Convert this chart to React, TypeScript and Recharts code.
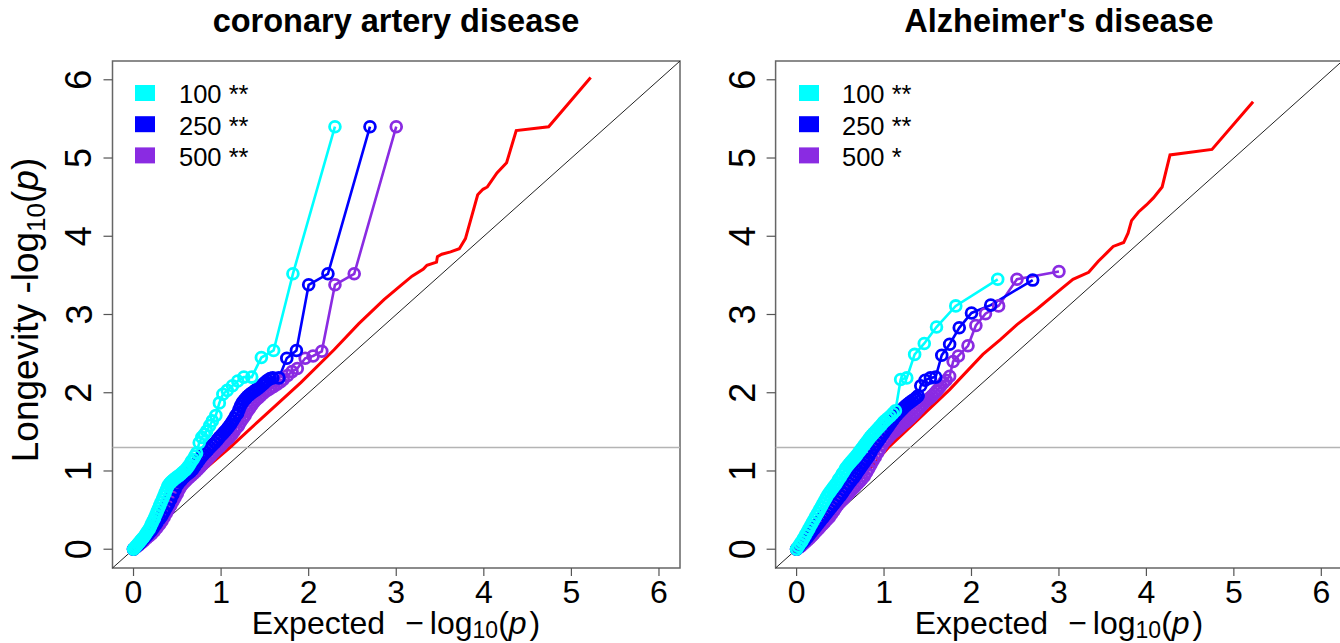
import { ComposedChart, Line, XAxis, YAxis, ReferenceLine, ReferenceArea } from "recharts";

type Pt = { x: number; y: number };

const FONT = "'Liberation Sans', Arial, sans-serif";

const axisTicks = [0, 1, 2, 3, 4, 5, 6];
const legendSizes = ["100", "250", "500"];
const cadStars = ["**", "**", "**"];
const adStars = ["**", "**", "*"];
const seriesColors = ["#00FFFF", "#0000FF", "#8A2BE2"];

const pts = (a: number[][]): Pt[] => a.map(([x, y]) => ({ x, y }));

// coronary artery disease
const cadRed = pts([
  [0, 0], [0.2, 0.22], [0.4, 0.52], [0.6, 0.81], [0.85, 1.06], [1.1, 1.3], [1.45, 1.66],
  [1.91, 2.13], [2.29, 2.55], [2.57, 2.88], [2.86, 3.19], [3.05, 3.37], [3.18, 3.49],
  [3.31, 3.58], [3.35, 3.63], [3.46, 3.67], [3.47, 3.74], [3.52, 3.77], [3.62, 3.8],
  [3.72, 3.84], [3.79, 3.97], [3.85, 4.21], [3.93, 4.53], [3.99, 4.6], [4.04, 4.63],
  [4.15, 4.81], [4.26, 4.94], [4.37, 5.35], [4.74, 5.4], [5.22, 6.03],
]);
const cadCyan = pts([
  [0, 0], [0.015, 0.02], [0.03, 0.04], [0.045, 0.06], [0.06, 0.08], [0.075, 0.1], [0.09, 0.12],
  [0.105, 0.14], [0.12, 0.16], [0.135, 0.185], [0.15, 0.21], [0.165, 0.235], [0.18, 0.26],
  [0.195, 0.295], [0.21, 0.33], [0.225, 0.365], [0.24, 0.4], [0.255, 0.44], [0.27, 0.48],
  [0.285, 0.52], [0.3, 0.56], [0.315, 0.6], [0.33, 0.64], [0.345, 0.68], [0.36, 0.72],
  [0.375, 0.76], [0.39, 0.8], [0.405, 0.83], [0.42, 0.85], [0.435, 0.865], [0.45, 0.88],
  [0.465, 0.895], [0.48, 0.91], [0.5, 0.925], [0.52, 0.94], [0.54, 0.96], [0.56, 0.98],
  [0.58, 1.0], [0.6, 1.02], [0.62, 1.05], [0.64, 1.08], [0.66, 1.12], [0.68, 1.15],
  [0.7, 1.19], [0.72, 1.23], [0.75, 1.36], [0.78, 1.43], [0.81, 1.47], [0.835, 1.51],
  [0.87, 1.58], [0.9, 1.64], [0.94, 1.71], [0.98, 1.87], [1.02, 1.98], [1.07, 2.03],
  [1.13, 2.09], [1.19, 2.15], [1.26, 2.2], [1.35, 2.2], [1.46, 2.45], [1.6, 2.54],
  [1.82, 3.52], [2.3, 5.4],
]);
const cadBlue = pts([
  [0, 0], [0.025, 0.025], [0.05, 0.05], [0.075, 0.08], [0.1, 0.11], [0.125, 0.14], [0.15, 0.17],
  [0.175, 0.2], [0.2, 0.23], [0.225, 0.27], [0.25, 0.31], [0.275, 0.35], [0.3, 0.39],
  [0.325, 0.43], [0.35, 0.48], [0.375, 0.53], [0.4, 0.58], [0.425, 0.64], [0.45, 0.7],
  [0.475, 0.76], [0.5, 0.82], [0.525, 0.86], [0.55, 0.89], [0.575, 0.92], [0.6, 0.945],
  [0.625, 0.97], [0.65, 0.99], [0.675, 1.02], [0.7, 1.06], [0.725, 1.1], [0.75, 1.14],
  [0.775, 1.18], [0.8, 1.21], [0.825, 1.24], [0.85, 1.27], [0.875, 1.3], [0.9, 1.33],
  [0.93, 1.36], [0.955, 1.395], [0.98, 1.43], [1.005, 1.46], [1.03, 1.49], [1.05, 1.515],
  [1.07, 1.54], [1.09, 1.57], [1.11, 1.6], [1.13, 1.635], [1.15, 1.67], [1.17, 1.71],
  [1.19, 1.74], [1.205, 1.785], [1.22, 1.83], [1.24, 1.87], [1.26, 1.9], [1.28, 1.925],
  [1.3, 1.95], [1.32, 1.97], [1.34, 1.99], [1.365, 2.01], [1.39, 2.03], [1.415, 2.05],
  [1.44, 2.07], [1.465, 2.095], [1.49, 2.12], [1.51, 2.14], [1.53, 2.16], [1.56, 2.18],
  [1.59, 2.19], [1.66, 2.19], [1.75, 2.44], [1.86, 2.54], [2.0, 3.38], [2.22, 3.52], [2.7, 5.4],
]);
const cadPurple = pts([
  [0, 0], [0.03, 0.025], [0.06, 0.05], [0.09, 0.08], [0.12, 0.11], [0.15, 0.14], [0.18, 0.17],
  [0.21, 0.2], [0.24, 0.235], [0.27, 0.275], [0.3, 0.32], [0.325, 0.36], [0.35, 0.41],
  [0.375, 0.46], [0.4, 0.51], [0.425, 0.56], [0.45, 0.61], [0.475, 0.66], [0.5, 0.71],
  [0.52, 0.76], [0.54, 0.8], [0.56, 0.83], [0.585, 0.86], [0.61, 0.89], [0.635, 0.915],
  [0.66, 0.94], [0.685, 0.965], [0.71, 0.99], [0.735, 1.02], [0.76, 1.05], [0.785, 1.08],
  [0.81, 1.11], [0.835, 1.14], [0.86, 1.17], [0.885, 1.2], [0.91, 1.23], [0.935, 1.26],
  [0.96, 1.285], [0.985, 1.31], [1.01, 1.34], [1.035, 1.37], [1.06, 1.4], [1.085, 1.42],
  [1.1, 1.44], [1.125, 1.47], [1.15, 1.51], [1.175, 1.55], [1.2, 1.58], [1.225, 1.63],
  [1.25, 1.67], [1.275, 1.71], [1.3, 1.76], [1.325, 1.8], [1.35, 1.84], [1.375, 1.88],
  [1.4, 1.91], [1.425, 1.935], [1.45, 1.96], [1.48, 1.99], [1.51, 2.02], [1.54, 2.04],
  [1.57, 2.06], [1.6, 2.08], [1.64, 2.11], [1.68, 2.14], [1.71, 2.17], [1.76, 2.22],
  [1.81, 2.27], [1.87, 2.31], [1.96, 2.44], [2.05, 2.47], [2.15, 2.53], [2.3, 3.38],
  [2.52, 3.52], [3.0, 5.4],
]);

// Alzheimer's disease
const adRed = pts([
  [0, 0], [0.3, 0.33], [0.6, 0.75], [0.8, 0.98], [1.05, 1.3], [1.4, 1.67], [1.75, 2.04],
  [2.13, 2.49], [2.33, 2.68], [2.52, 2.87], [2.75, 3.07], [3.03, 3.33], [3.16, 3.45],
  [3.34, 3.54], [3.45, 3.68], [3.55, 3.79], [3.62, 3.87], [3.74, 3.92], [3.79, 4.04],
  [3.83, 4.2], [3.91, 4.31], [4.0, 4.4], [4.08, 4.49], [4.18, 4.63], [4.27, 5.04],
  [4.75, 5.11], [5.22, 5.72],
]);
const adCyan = pts([
  [0, 0], [0.02, 0.035], [0.04, 0.07], [0.06, 0.1], [0.08, 0.14], [0.1, 0.18], [0.12, 0.22],
  [0.14, 0.26], [0.16, 0.3], [0.18, 0.34], [0.2, 0.38], [0.22, 0.42], [0.24, 0.46],
  [0.26, 0.5], [0.28, 0.54], [0.3, 0.58], [0.32, 0.62], [0.34, 0.66], [0.36, 0.7],
  [0.38, 0.73], [0.4, 0.76], [0.42, 0.79], [0.44, 0.82], [0.46, 0.85], [0.48, 0.89],
  [0.5, 0.92], [0.52, 0.96], [0.54, 0.99], [0.56, 1.03], [0.58, 1.06], [0.6, 1.09],
  [0.62, 1.115], [0.64, 1.14], [0.66, 1.165], [0.68, 1.19], [0.7, 1.22], [0.72, 1.25],
  [0.74, 1.28], [0.76, 1.31], [0.78, 1.34], [0.8, 1.37], [0.82, 1.4], [0.84, 1.43],
  [0.86, 1.455], [0.88, 1.48], [0.9, 1.505], [0.92, 1.53], [0.945, 1.56], [0.97, 1.59],
  [0.99, 1.62], [1.01, 1.64], [1.04, 1.67], [1.07, 1.7], [1.1, 1.735], [1.13, 1.77],
  [1.19, 2.17], [1.26, 2.19], [1.35, 2.49], [1.46, 2.63], [1.6, 2.84], [1.82, 3.11], [2.3, 3.45],
]);
const adBlue = pts([
  [0, 0], [0.025, 0.03], [0.05, 0.06], [0.075, 0.09], [0.1, 0.12], [0.125, 0.155], [0.15, 0.19],
  [0.175, 0.225], [0.2, 0.26], [0.225, 0.295], [0.25, 0.33], [0.275, 0.365], [0.3, 0.4],
  [0.325, 0.435], [0.35, 0.47], [0.375, 0.505], [0.4, 0.54], [0.425, 0.575], [0.45, 0.61],
  [0.475, 0.645], [0.5, 0.68], [0.525, 0.72], [0.55, 0.76], [0.575, 0.8], [0.6, 0.84],
  [0.625, 0.875], [0.65, 0.91], [0.675, 0.95], [0.7, 0.99], [0.725, 1.03], [0.75, 1.07],
  [0.775, 1.11], [0.8, 1.15], [0.825, 1.19], [0.85, 1.24], [0.875, 1.29], [0.9, 1.33],
  [0.925, 1.37], [0.95, 1.41], [0.975, 1.45], [1.0, 1.49], [1.025, 1.53], [1.05, 1.57],
  [1.075, 1.61], [1.1, 1.65], [1.125, 1.69], [1.15, 1.72], [1.175, 1.75], [1.2, 1.78],
  [1.225, 1.81], [1.25, 1.835], [1.275, 1.86], [1.3, 1.88], [1.325, 1.9], [1.35, 1.92],
  [1.37, 1.94], [1.39, 1.96], [1.42, 2.09], [1.47, 2.16], [1.53, 2.19], [1.59, 2.2],
  [1.66, 2.48], [1.75, 2.62], [1.86, 2.83], [2.0, 3.02], [2.22, 3.12], [2.7, 3.44],
]);
const adPurple = pts([
  [0, 0], [0.025, 0.02], [0.05, 0.04], [0.075, 0.065], [0.1, 0.09], [0.125, 0.115], [0.15, 0.14],
  [0.175, 0.17], [0.2, 0.2], [0.225, 0.23], [0.25, 0.26], [0.275, 0.29], [0.3, 0.32],
  [0.325, 0.35], [0.35, 0.38], [0.375, 0.41], [0.4, 0.45], [0.425, 0.49], [0.45, 0.53],
  [0.475, 0.57], [0.5, 0.6], [0.525, 0.63], [0.55, 0.66], [0.575, 0.69], [0.6, 0.72],
  [0.625, 0.75], [0.65, 0.78], [0.675, 0.81], [0.7, 0.84], [0.725, 0.87], [0.75, 0.9],
  [0.775, 0.935], [0.8, 0.98], [0.825, 1.03], [0.85, 1.08], [0.875, 1.13], [0.9, 1.18],
  [0.925, 1.23], [0.95, 1.28], [0.975, 1.33], [1.0, 1.37], [1.025, 1.4], [1.05, 1.43],
  [1.075, 1.46], [1.1, 1.49], [1.125, 1.51], [1.15, 1.535], [1.175, 1.56], [1.2, 1.585],
  [1.225, 1.61], [1.25, 1.63], [1.275, 1.655], [1.3, 1.68], [1.325, 1.71], [1.35, 1.74],
  [1.375, 1.77], [1.4, 1.8], [1.425, 1.83], [1.45, 1.86], [1.475, 1.89], [1.5, 1.91],
  [1.525, 1.935], [1.55, 1.96], [1.575, 1.99], [1.6, 2.02], [1.625, 2.055], [1.65, 2.09],
  [1.68, 2.13], [1.71, 2.16], [1.75, 2.21], [1.79, 2.4], [1.85, 2.47], [1.96, 2.6],
  [2.05, 2.86], [2.16, 3.01], [2.31, 3.11], [2.52, 3.45], [3.0, 3.55],
]);

const LO = -0.24;
const HI = 6.24;

function YTick(props: any) {
  const { x, y, payload } = props;
  return (
    <text x={x} y={y} transform={`rotate(-90 ${x} ${y})`} textAnchor="middle" fontSize={36} fontFamily={FONT} fill="#000">
      {payload.value}
    </text>
  );
}

function XTick(props: any) {
  const { x, y, payload } = props;
  return (
    <text x={x} y={y + 23} textAnchor="middle" fontSize={32} fontFamily={FONT} fill="#000">
      {payload.value}
    </text>
  );
}

function QQPanel({ left, width, margin, red, groups }: {
  left: number;
  width: number;
  margin: { top: number; right: number; bottom: number; left: number };
  red: Pt[];
  groups: Pt[][];
}) {
  return (
    <div style={{ position: "absolute", left, top: 0 }}>
      <ComposedChart width={width} height={643} margin={margin}>
        <XAxis
          type="number"
          dataKey="x"
          domain={[LO, HI]}
          allowDataOverflow
          ticks={axisTicks}
          interval={0}
          height={60}
          axisLine={false}
          tickSize={8}
          tickMargin={4}
          tickLine={{ stroke: "#555", strokeWidth: 1.2 }}
          tick={(p: any) => <XTick {...p} />}
        />
        <YAxis
          type="number"
          dataKey="y"
          domain={[LO, HI]}
          allowDataOverflow
          ticks={axisTicks}
          interval={0}
          width={60}
          axisLine={false}
          tickSize={9}
          tickMargin={12}
          tickLine={{ stroke: "#555", strokeWidth: 1.2 }}
          tick={(p: any) => <YTick {...p} />}
        />
        <ReferenceArea x1={LO} x2={HI} y1={LO} y2={HI} fill="none" fillOpacity={0} stroke="#666" strokeWidth={1.5} />
        <ReferenceLine segment={[{ x: LO, y: LO }, { x: HI, y: HI }]} stroke="#222" strokeWidth={1} />
        <ReferenceLine y={1.301} stroke="#b4b4b4" strokeWidth={1.5} />
        <Line data={red} dataKey="y" type="linear" stroke="#FF0000" strokeWidth={3} dot={false} activeDot={false} isAnimationActive={false} />
        {[2, 1, 0].map((i) => (
          <Line
            key={i}
            data={groups[i]}
            dataKey="y"
            type="linear"
            stroke={seriesColors[i]}
            strokeWidth={2.6}
            dot={{ r: 5.4, fill: "none", stroke: seriesColors[i], strokeWidth: 2.8 }}
            activeDot={false}
            isAnimationActive={false}
          />
        ))}
      </ComposedChart>
    </div>
  );
}

function Legend({ x, textX, stars }: { x: number; textX: number; stars: string[] }) {
  return (
    <g>
      {legendSizes.map((s, i) => (
        <g key={s}>
          <rect x={x} y={85 + i * 31.2} width={20} height={16} fill={seriesColors[i]} />
          <text x={textX} y={103.3 + i * 31.2} fontSize={25.5} fontFamily={FONT} fill="#000">
            {s} {stars[i]}
          </text>
        </g>
      ))}
    </g>
  );
}

function XLabel({ cx }: { cx: number }) {
  return (
    <text x={cx} y={634} textAnchor="middle" fontSize={32} fontFamily={FONT} fill="#000">
      Expected
      <tspan dx={20}>−</tspan>
      <tspan dx={6}>log</tspan>
      <tspan fontSize={23} dy={4}>10</tspan>
      <tspan dy={-4}>(</tspan>
      <tspan fontStyle="italic">p</tspan>
      <tspan dx={3}>)</tspan>
    </text>
  );
}

export default function App() {
  return (
    <div style={{ position: "absolute", left: 0, top: 0, width: 1340, height: 643, overflow: "hidden", background: "#fff" }}>
      <QQPanel left={0} width={700} margin={{ top: 61, right: 20, bottom: 15, left: 52.5 }} red={cadRed} groups={[cadCyan, cadBlue, cadPurple]} />
      <QQPanel left={700} width={660} margin={{ top: 61, right: 17.7, bottom: 15, left: 15.6 }} red={adRed} groups={[adCyan, adBlue, adPurple]} />
      <svg width={1340} height={643} style={{ position: "absolute", left: 0, top: 0, pointerEvents: "none" }}>
        <text x={396} y={32} textAnchor="middle" fontSize={32.5} fontWeight="bold" fontFamily={FONT} fill="#000">
          coronary artery disease
        </text>
        <text x={1059} y={32} textAnchor="middle" fontSize={32.5} fontWeight="bold" fontFamily={FONT} fill="#000">
          Alzheimer's disease
        </text>
        <text x={38} y={310} transform="rotate(-90 38 310)" textAnchor="middle" fontSize={37} fontFamily={FONT} fill="#000">
          Longevity -log
          <tspan fontSize={26} dy={7}>10</tspan>
          <tspan dy={-7}>(</tspan>
          <tspan fontStyle="italic">p</tspan>
          <tspan>)</tspan>
        </text>
        <XLabel cx={396} />
        <XLabel cx={1059} />
        <Legend x={135} textX={179} stars={cadStars} />
        <Legend x={799} textX={842} stars={adStars} />
      </svg>
    </div>
  );
}
